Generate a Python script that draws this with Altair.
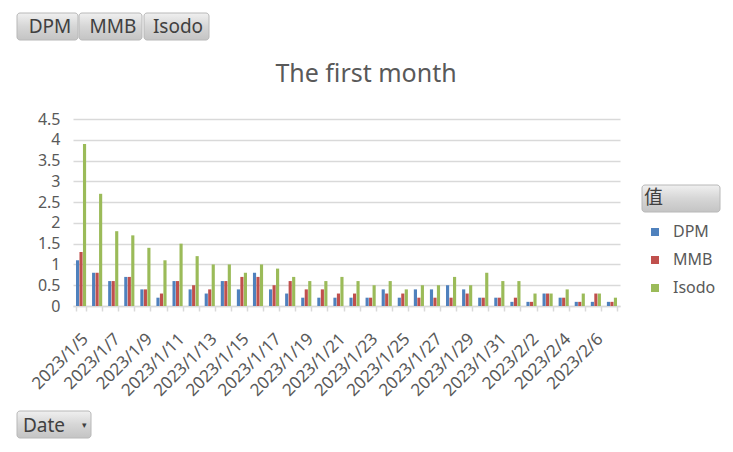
import altair as alt
import pandas as pd

dates = [f"2023/1/{d}" for d in range(5, 32)] + [f"2023/2/{d}" for d in range(1, 8)]
dpm = [1.1, 0.8, 0.6, 0.7, 0.4, 0.2, 0.6, 0.4, 0.3, 0.6, 0.4, 0.8,
       0.4, 0.3, 0.2, 0.2, 0.2, 0.2, 0.2, 0.4, 0.2, 0.4, 0.4, 0.5,
       0.4, 0.2, 0.2, 0.1, 0.1, 0.3, 0.2, 0.1, 0.1, 0.1]
mmb = [1.3, 0.8, 0.6, 0.7, 0.4, 0.3, 0.6, 0.5, 0.4, 0.6, 0.7, 0.7,
       0.5, 0.6, 0.4, 0.4, 0.3, 0.3, 0.2, 0.3, 0.3, 0.2, 0.2, 0.2,
       0.3, 0.2, 0.2, 0.2, 0.1, 0.3, 0.2, 0.1, 0.3, 0.1]
isodo = [3.9, 2.7, 1.8, 1.7, 1.4, 1.1, 1.5, 1.2, 1.0, 1.0, 0.8, 1.0,
         0.9, 0.7, 0.6, 0.6, 0.7, 0.6, 0.5, 0.6, 0.4, 0.5, 0.5, 0.7,
         0.5, 0.8, 0.6, 0.6, 0.3, 0.3, 0.4, 0.3, 0.3, 0.2]
series = ["DPM", "MMB", "Isodo"]
colors = ["#4F81BD", "#C0504D", "#9BBB59"]
shown_labels = dates[::2]

rows = []
for i, d in enumerate(dates):
    for s, vals in zip(series, [dpm, mmb, isodo]):
        rows.append({"Date": d, "series": s, "value": vals[i]})
df = pd.DataFrame(rows)

FONT = "Noto Sans"
GRAY = "#595959"
W, H = 547, 187

label_list = "[" + ",".join(f"'{l}'" for l in shown_labels) + "]"

bars = alt.Chart(df).mark_bar().encode(
    x=alt.X("Date:N", sort=dates, title=None,
            scale=alt.Scale(paddingInner=0.37, paddingOuter=0.185),
            axis=alt.Axis(labelAngle=-45, labelAlign="right", labelBaseline="middle",
                          labelExpr=f"indexof({label_list}, datum.value) >= 0 ? datum.value : ''",
                          labelFont=FONT, labelFontSize=17, labelColor=GRAY,
                          labelPadding=25, labelOffset=4, tickBand="extent", tickSize=5,
                          tickColor="#d9d9d9", tickWidth=1.5,
                          domainColor="#d9d9d9", domainWidth=1.5, labelOverlap=False)),
    xOffset=alt.XOffset("series:N", sort=series, scale=alt.Scale(paddingInner=0.1)),
    y=alt.Y("value:Q", title=None,
            scale=alt.Scale(domain=[0, 4.5], nice=False),
            axis=alt.Axis(values=[0, 0.5, 1, 1.5, 2, 2.5, 3, 3.5, 4, 4.5],
                          format="~g", domain=False, ticks=False, labelPadding=13,
                          labelFont=FONT, labelFontSize=16, labelColor=GRAY,
                          gridColor="#d9d9d9", gridWidth=1.5)),
    color=alt.Color("series:N", sort=series,
                    scale=alt.Scale(domain=series, range=colors),
                    legend=alt.Legend(orient="none", legendX=574, legendY=105, title=None,
                                      symbolType="square", symbolSize=64, symbolStrokeWidth=0,
                                      labelFont=FONT, labelFontSize=16, labelColor=GRAY,
                                      labelOffset=10, rowPadding=12, padding=0)),
)

one = alt.Data(values=[{}])
grad = alt.Gradient(gradient="linear",
                    stops=[alt.GradientStop(color="#f0f0f0", offset=0),
                           alt.GradientStop(color="#d6d6d6", offset=0.5),
                           alt.GradientStop(color="#c4c4c4", offset=1)],
                    x1=0, x2=0, y1=0, y2=1)


def button(x1, x2, y1, y2):
    return alt.Chart(one).mark_rect(fill=grad, stroke="#b8b8b8", strokeWidth=1,
                                    cornerRadius=3).encode(
        x=alt.value(x1), x2=alt.value(x2), y=alt.value(y1), y2=alt.value(y2))


def label(x, y, txt, size=19, color="#404040", font=FONT, align="center"):
    return alt.Chart(one).mark_text(font=font, fontSize=size, color=color,
                                    align=align, baseline="middle").encode(
        x=alt.value(x), y=alt.value(y), text=alt.value(txt))


ox, oy = 73, 119  # plot origin on screen
deco = [
    button(17 - ox, 78 - ox, 13 - oy, 40 - oy), label(50 - ox, 27 - oy, "DPM"),
    button(79 - ox, 142 - ox, 13 - oy, 40 - oy), label(113 - ox, 27 - oy, "MMB"),
    button(144 - ox, 209 - ox, 13 - oy, 40 - oy), label(178 - ox, 27 - oy, "Isodo"),
    button(17 - ox, 91 - ox, 411 - oy, 438 - oy), label(44 - ox, 426 - oy, "Date"),
    label(84 - ox, 425 - oy, "▾", size=9),
    button(642 - ox, 720 - ox, 185 - oy, 212 - oy),
    label(644 - ox, 198 - oy, "值", size=19, font="Noto Sans CJK SC", align="left"),
    label(366 - ox, 74 - oy, "The first month", size=25, color=GRAY),
]

chart = alt.layer(bars, *deco).properties(
    width=W, height=H,
    background="white",
    autosize=alt.AutoSizeParams(type="none"),
    padding={"left": 65, "top": 111, "right": 105, "bottom": 138},
).configure_view(stroke=None)

chart.save("out.html", embed_options={"renderer": "svg", "actions": False})
